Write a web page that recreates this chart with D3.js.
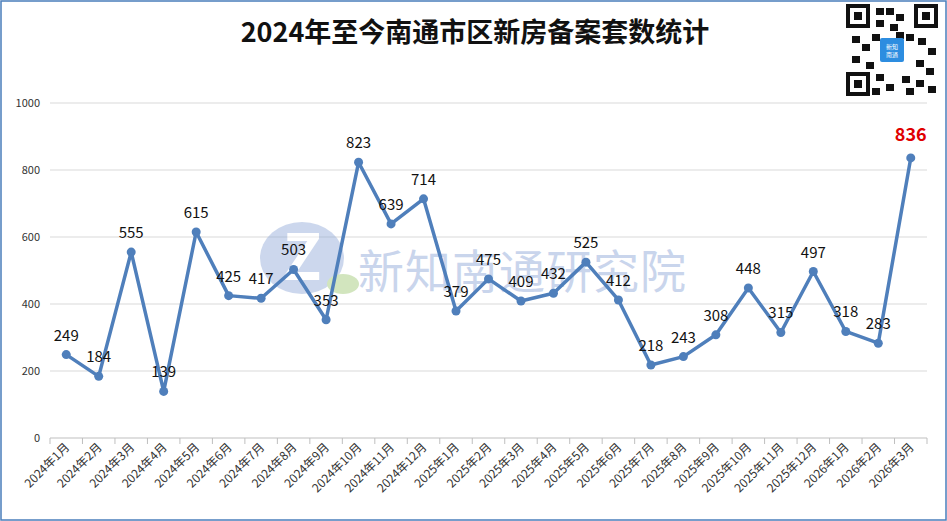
<!DOCTYPE html>
<html><head><meta charset="utf-8">
<script src="https://cdn.jsdelivr.net/npm/d3@7"></script>
<style>body{margin:0;background:#fff}svg{display:block;font-family:"Noto Sans CJK SC","Noto Sans",sans-serif}</style>
</head><body><svg id="c" width="947" height="521"></svg>
<script>
const categories=["2024年1月","2024年2月","2024年3月","2024年4月","2024年5月","2024年6月","2024年7月","2024年8月","2024年9月","2024年10月","2024年11月","2024年12月","2025年1月","2025年2月","2025年3月","2025年4月","2025年5月","2025年6月","2025年7月","2025年8月","2025年9月","2025年10月","2025年11月","2025年12月","2026年1月","2026年2月","2026年3月"];
const values=[249,184,555,139,615,425,417,503,353,823,639,714,379,475,409,432,525,412,218,243,308,448,315,497,318,283,836];
const yTicks=[0,200,400,600,800,1000];
const title="2024年至今南通市区新房备案套数统计";
const watermark="新知南通研究院";

const svg=d3.select("#c");
svg.append("rect").attr("x",1).attr("y",1).attr("width",945).attr("height",519).attr("fill","#fff").attr("stroke","#4a7ebb").attr("stroke-width",1.5);
const x=d3.scaleBand().domain(categories).range([50,927]);
const y=d3.scaleLinear().domain([0,1000]).range([438,103]);

svg.append("g").selectAll("line").data(yTicks.slice(1)).join("line")
 .attr("x1",50).attr("x2",927).attr("y1",d=>y(d)).attr("y2",d=>y(d)).attr("stroke","#d9d9d9");
svg.append("g").selectAll("text").data(yTicks).join("text")
 .attr("x",40).attr("y",d=>y(d)+4).attr("text-anchor","end").attr("font-size",11).attr("fill","#333").text(d=>d);
svg.append("line").attr("x1",50).attr("x2",927).attr("y1",438).attr("y2",438).attr("stroke","#bfbfbf");
svg.append("g").selectAll("line").data(categories.concat(["end"])).join("line")
 .attr("x1",(d,i)=>50+i*x.step()).attr("x2",(d,i)=>50+i*x.step()).attr("y1",438).attr("y2",444).attr("stroke","#bfbfbf");
svg.append("g").selectAll("text").data(categories).join("text")
 .attr("transform",d=>`translate(${x(d)+x.bandwidth()/2+4},${448}) rotate(-45)`)
 .attr("text-anchor","end").attr("font-size",12).attr("fill","#333").text(d=>d);

const wm=svg.append("g").attr("opacity",0.45);
wm.append("ellipse").attr("cx",302).attr("cy",258).attr("rx",42).attr("ry",36).attr("fill","#8fa8d8");
wm.append("text").attr("x",302).attr("y",280).attr("text-anchor","middle").attr("font-size",64).attr("font-weight","bold").attr("fill","#fff").text("Z");
wm.append("ellipse").attr("cx",343).attr("cy",284).attr("rx",16).attr("ry",10).attr("fill","#9cc770");
wm.append("text").attr("x",358).attr("y",288).attr("font-size",46).attr("fill","#8aa3d6").attr("letter-spacing",1).text(watermark);

svg.append("path").datum(values).attr("fill","none").attr("stroke","#4f7fbb").attr("stroke-width",3.5).attr("stroke-linejoin","round")
 .attr("d",d3.line().x((d,i)=>x(categories[i])+x.bandwidth()/2).y(d=>y(d)));
svg.append("g").selectAll("circle").data(values).join("circle")
 .attr("cx",(d,i)=>x(categories[i])+x.bandwidth()/2).attr("cy",d=>y(d)).attr("r",4.5).attr("fill","#4f7fbb");
const last=values.length-1;
svg.append("g").selectAll("text").data(values).join("text")
 .attr("x",(d,i)=>x(categories[i])+x.bandwidth()/2).attr("y",(d,i)=>y(d)-(i===last?17:14))
 .attr("text-anchor","middle").attr("font-size",(d,i)=>i===last?18:15)
 .attr("font-weight",(d,i)=>i===last?"bold":"normal")
 .attr("fill",(d,i)=>i===last?"#e00000":"#111").text(d=>d);

svg.append("text").attr("x",475).attr("y",42).attr("text-anchor","middle").attr("font-size",27).attr("font-weight","bold").attr("fill","#111").text(title);

const q=svg.append("g").attr("transform","translate(846,4)");
q.append("rect").attr("width",92).attr("height",92).attr("fill","#fff");
const cells=[[0,0],[0,68],[68,0]];
cells.forEach(([a,b])=>{q.append("rect").attr("x",a+2).attr("y",b+2).attr("width",20).attr("height",20).attr("fill","none").attr("stroke","#111").attr("stroke-width",4);
 q.append("rect").attr("x",a+8).attr("y",b+8).attr("width",8).attr("height",8).attr("fill","#111");});
const pat=[[30,4],[40,4],[50,10],[30,16],[44,20],[6,32],[16,40],[26,30],[34,44],[60,30],[72,34],[82,44],[6,52],[20,58],[70,56],[80,64],[30,70],[40,80],[56,72],[70,76],[82,82],[60,84],[26,84],[50,28]];
q.selectAll("r2").data(pat).join("rect").attr("x",d=>d[0]).attr("y",d=>d[1]).attr("width",8).attr("height",7).attr("fill","#111");
q.append("rect").attr("x",34).attr("y",34).attr("width",24).attr("height",24).attr("rx",2).attr("fill","#2d8de0");
q.append("text").attr("x",46).attr("y",45).attr("text-anchor","middle").attr("font-size",6).attr("fill","#fff").text("新知");
q.append("text").attr("x",46).attr("y",53).attr("text-anchor","middle").attr("font-size",6).attr("fill","#fff").text("南通");
</script></body></html>
